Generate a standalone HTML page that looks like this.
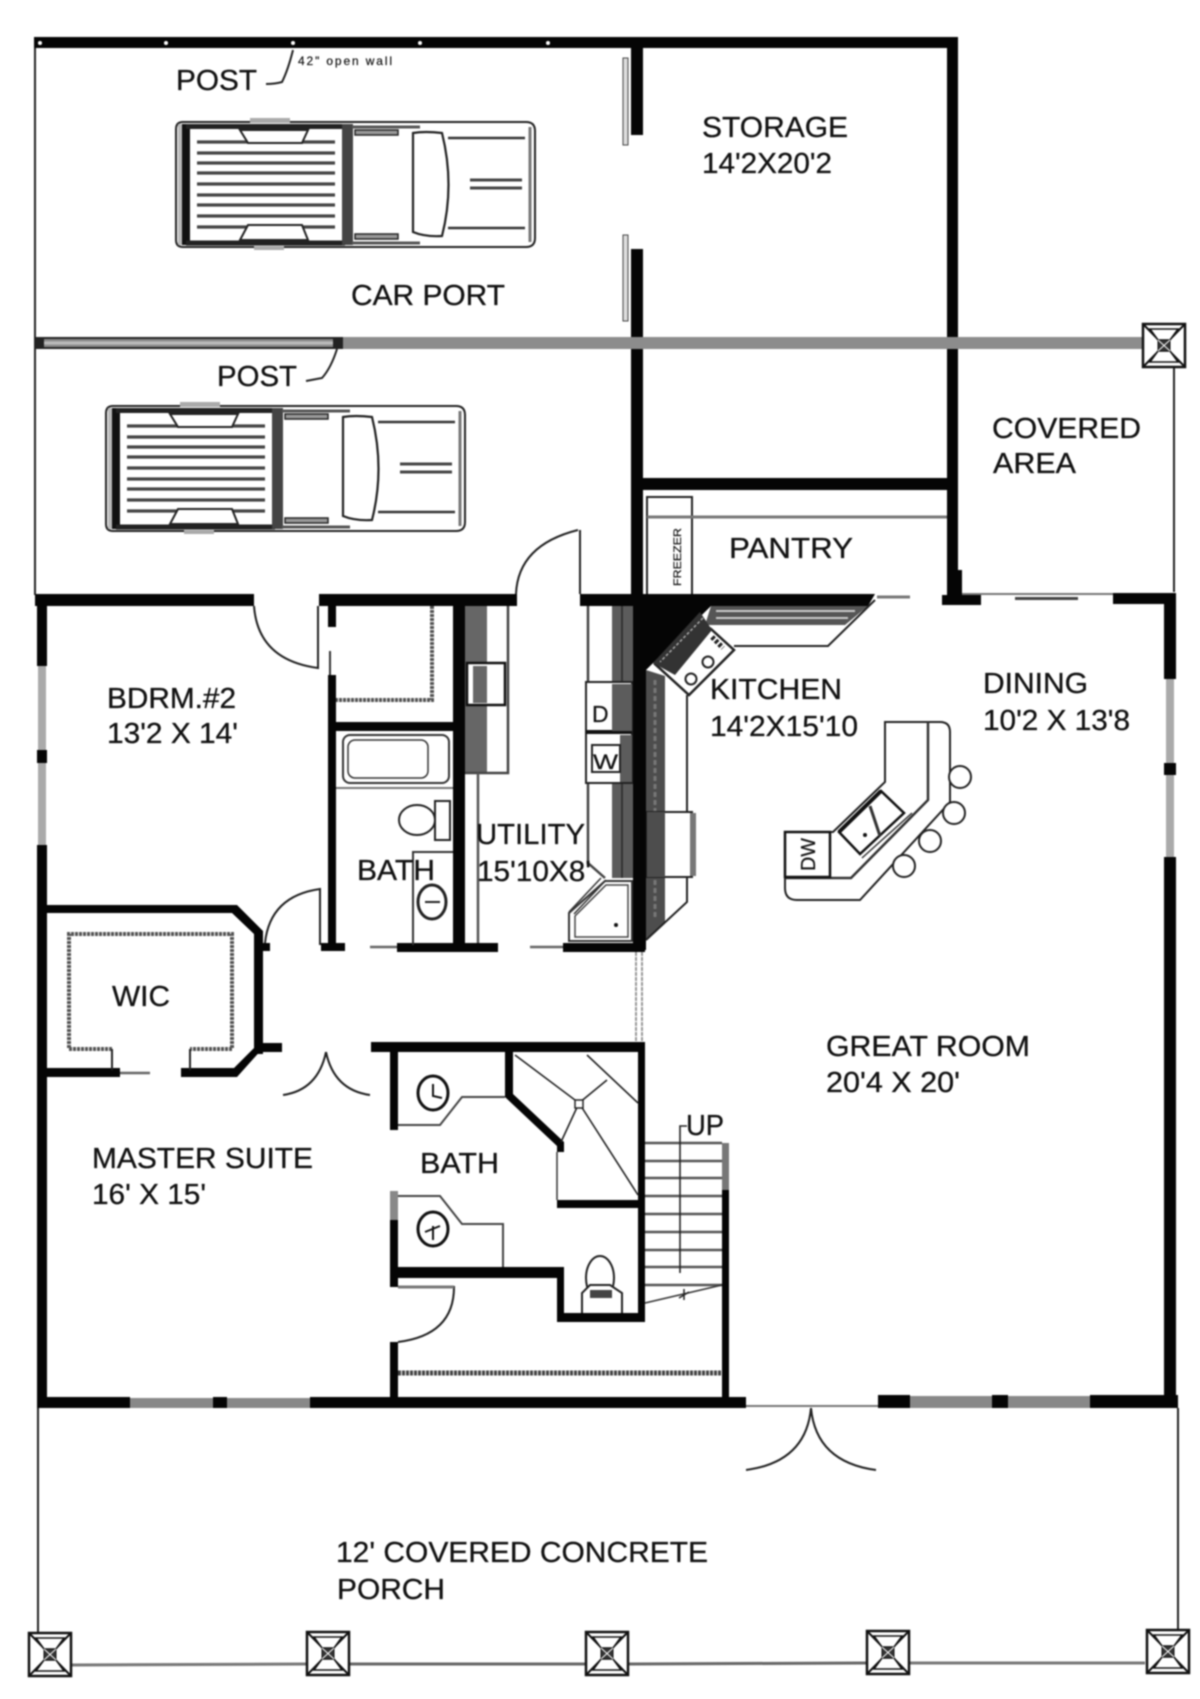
<!DOCTYPE html>
<html><head><meta charset="utf-8"><style>
html,body{margin:0;padding:0;background:#fff}
svg{display:block;filter:blur(.7px)}
text{font-family:"Liberation Sans",sans-serif;font-size:29px;fill:#111;stroke:#111;stroke-width:.3px}
</style></head><body>
<svg width="1200" height="1699" viewBox="0 0 1200 1699" xmlns="http://www.w3.org/2000/svg">
<defs>
<g id="post" fill="none" stroke="#111">
<rect x="1" y="1" width="42" height="43" stroke-width="2.5"/>
<path d="M1 1L43 44M43 1L1 44" stroke-width="2"/>
<path d="M8 6H36L28 17H16ZM8 39H36L28 28H16Z" stroke-width="1.5" fill="#fff"/>
<rect x="16" y="17" width="12" height="11" fill="#333" stroke-width="1"/>
<path d="M16 17L28 28M28 17L16 28" stroke="#fff" stroke-width="1"/>
</g>
<g id="truck" fill="none" stroke="#222">
<path d="M183 122H526Q535 122 535 131V238Q535 247 526 247H183Q176 247 176 240V129Q176 122 183 122Z" stroke-width="2"/>
<path d="M530 127V242" stroke="#777" stroke-width="3"/>
<rect x="182" y="124" width="8" height="121" stroke="none" fill="#111"/>
<rect x="178" y="124" width="4" height="121" stroke="none" fill="#bbb"/>
<path d="M186 126.500H345M186 243H345" stroke="#222" stroke-width="5"/>
<rect x="342" y="124" width="11" height="121" stroke="none" fill="#444"/>
<rect x="250" y="118" width="40" height="5" stroke="none" fill="#aaa"/>
<rect x="254" y="246" width="30" height="4" stroke="none" fill="#aaa"/>
<g stroke="#444" stroke-width="3.200"><path d="M197 142H335M197 153H335M197 163H335M197 173H335M197 184H335M197 195H335M197 205H335M197 216H335M197 227H335"/></g>
<path d="M240 130H308L302 143H248ZM248 225H302L308 240H240Z" stroke-width="2" fill="#fff"/>
<rect x="355" y="130" width="43" height="5" stroke-width="1.500" fill="#999"/>
<rect x="355" y="234" width="43" height="5" stroke-width="1.500" fill="#999"/>
<path d="M352 127H420M352 243H420" stroke="#555" stroke-width="3"/>
<path d="M413 133V232Q425 237 442 236Q455 185 442 133Q425 131 413 133Z" stroke-width="2.200"/>
<path d="M448 138H525M448 228H525" stroke="#333" stroke-width="2.500"/>
<path d="M470 180H522M470 188H522" stroke="#444" stroke-width="3"/>
</g>
</defs>
<rect width="1200" height="1699" fill="#fff"/>

<!-- carport outline -->
<g fill="#050505">
<rect x="34" y="37" width="924" height="11"/>
<rect x="631" y="48" width="12" height="87"/>
<rect x="631" y="249" width="12" height="350"/>
<rect x="947" y="37" width="11" height="560"/>
<rect x="643" y="478" width="315" height="12"/>
</g>
<g fill="#fff"><circle cx="40" cy="43" r="2"/><circle cx="166" cy="43" r="2"/><circle cx="293" cy="43" r="2"/><circle cx="420" cy="43" r="2"/><circle cx="548" cy="43" r="2"/></g>
<path d="M35 48V595" stroke="#222" stroke-width="2"/>
<rect x="623" y="58" width="5" height="87" fill="#ddd" stroke="#444"/>
<rect x="623" y="235" width="5" height="86" fill="#ddd" stroke="#444"/>
<rect x="34" y="337" width="1108" height="12" fill="#8c8c8c"/>
<path d="M34 338H337M34 348H337" stroke="#222" stroke-width="2"/>
<path d="M34 343H337" stroke="#bbb" stroke-width="3"/>
<rect x="34" y="337" width="10" height="12" fill="#222"/><rect x="333" y="337" width="10" height="12" fill="#222"/>
<use href="#post" x="1142" y="323"/>
<path d="M1174 368V592" stroke="#222" stroke-width="2"/>
<path d="M293 50Q288 70 282 82Q275 84 266 84" fill="none" stroke="#222" stroke-width="2"/>
<path d="M337 349Q331 368 322 378L306 381" fill="none" stroke="#222" stroke-width="2"/>
<use href="#truck"/>
<use href="#truck" x="-70" y="284"/>

<!-- pantry -->
<path d="M647 594V497H692V594" fill="none" stroke="#222" stroke-width="2"/>
<path d="M647 517H947" stroke="#777" stroke-width="3"/>
<text transform="translate(681,586) rotate(-90)" style="font-size:11px;stroke-width:.2px" textLength="58" lengthAdjust="spacingAndGlyphs">FREEZER</text>
<path d="M580 530V594" stroke="#222" stroke-width="2" fill="none"/>
<path d="M516 594Q518 545 578 530" fill="none" stroke="#222" stroke-width="2"/>

<!-- main house walls -->
<g fill="#050505">
<rect x="35" y="594" width="219" height="12"/>
<rect x="319" y="594" width="198" height="12"/>
<rect x="580" y="594" width="66" height="12"/>
<path d="M646 594H875L868 606H711L646 670Z"/>
<rect x="633" y="594" width="13" height="356"/>
<rect x="950" y="570" width="12" height="30"/>
<rect x="942" y="595" width="39" height="10"/>
<rect x="1113" y="593" width="63" height="11"/>
<rect x="1164" y="593" width="12" height="86"/>
<rect x="1164" y="763" width="12" height="12"/>
<rect x="1164" y="857" width="12" height="551"/>
<rect x="37" y="594" width="10" height="72"/>
<rect x="37" y="750" width="10" height="13"/>
<rect x="37" y="845" width="10" height="563"/>
<rect x="37" y="1397" width="93" height="11"/>
<rect x="213" y="1397" width="14" height="11"/>
<rect x="310" y="1397" width="436" height="11"/>
<rect x="878" y="1395" width="32" height="13"/>
<rect x="992" y="1395" width="16" height="13"/>
<rect x="1090" y="1395" width="88" height="13"/>
</g>
<rect x="38" y="666" width="8" height="84" fill="#aaa"/><rect x="38" y="763" width="8" height="82" fill="#aaa"/>
<rect x="1166" y="679" width="8" height="84" fill="#aaa"/><rect x="1166" y="775" width="8" height="82" fill="#aaa"/>
<rect x="130" y="1398" width="83" height="10" fill="#888"/><rect x="227" y="1398" width="83" height="10" fill="#888"/>
<rect x="910" y="1396" width="82" height="12" fill="#888"/><rect x="1008" y="1396" width="82" height="12" fill="#888"/>
<path d="M962 594H1113" stroke="#777" stroke-width="2"/><rect x="1015" y="597" width="63" height="3" fill="#444"/>
<path d="M877 597H910" stroke="#777" stroke-width="3"/>
<path d="M746 1406H878" stroke="#777" stroke-width="2"/>

<!-- bedroom 2 / bath -->
<path d="M254 606Q258 660 318 668V606" fill="none" stroke="#222" stroke-width="2"/>
<g fill="#050505">
<rect x="328" y="606" width="8" height="21"/>
<rect x="328" y="675" width="8" height="270"/>
<rect x="336" y="722" width="117" height="9"/>
<rect x="453" y="606" width="12" height="342"/>
<rect x="321" y="943" width="24" height="8"/>
<rect x="397" y="943" width="101" height="9"/>
<rect x="563" y="943" width="82" height="9"/>
<path d="M47 905H237L263 931V1054H254V934L232 913H47Z"/>
<rect x="261" y="943" width="9" height="8"/>
<rect x="261" y="1043" width="21" height="9"/>
<path d="M47 1068H120V1077H47ZM181 1068H234L254 1048H263L237 1077H181Z"/>
<rect x="371" y="1042" width="274" height="10"/>
<rect x="390" y="1052" width="8" height="78"/>
<rect x="390" y="1220" width="8" height="67"/>
<rect x="390" y="1342" width="8" height="55"/>
<rect x="398" y="1267" width="166" height="11"/>
<rect x="557" y="1267" width="7" height="55"/>
<rect x="557" y="1313" width="88" height="9"/>
<rect x="638" y="1052" width="7" height="270"/>
<path d="M505 1052H513V1094L564 1142V1152H557V1146L505 1097Z"/>
<rect x="557" y="1200" width="81" height="8"/>
<rect x="722" y="1190" width="7" height="207"/>
</g>
<rect x="390" y="1191" width="8" height="29" fill="#888"/>
<rect x="722" y="1143" width="7" height="47" fill="#777"/>
<path d="M330 651V675" stroke="#333" stroke-width="2"/>
<path d="M432 606V700H336" fill="none" stroke="#555" stroke-width="4" stroke-dasharray="3 1"/>
<rect x="343" y="735" width="106" height="48" rx="7" fill="none" stroke="#333" stroke-width="2"/>
<rect x="348" y="740" width="80" height="38" rx="7" fill="none" stroke="#333" stroke-width="1.500"/>
<path d="M336 788H453" stroke="#777" stroke-width="2"/>
<ellipse cx="417" cy="820" rx="18" ry="15" fill="none" stroke="#222" stroke-width="2"/>
<rect x="435" y="801" width="15" height="39" fill="none" stroke="#222" stroke-width="2"/>
<path d="M413 945V852H453" fill="none" stroke="#333" stroke-width="2"/>
<ellipse cx="432" cy="902" rx="14" ry="17" fill="none" stroke="#222" stroke-width="3"/>
<path d="M425 902H440" stroke="#222" stroke-width="2"/>
<path d="M265 943Q270 896 320 889V945" fill="none" stroke="#222" stroke-width="2"/>
<path d="M370 947H397M530 947H563M120 1073H150" stroke="#666" stroke-width="2.500"/>

<!-- WIC -->
<path d="M112 1049H69V934H232V1049H190" fill="none" stroke="#555" stroke-width="4" stroke-dasharray="3 1"/>
<path d="M112 1049V1070M190 1049V1070" stroke="#222" stroke-width="2"/>
<path d="M326 1052Q318 1090 283 1095M326 1052Q334 1090 370 1095" fill="none" stroke="#222" stroke-width="2"/>

<!-- utility -->
<rect x="465" y="606" width="22" height="167" fill="#666"/>
<path d="M508 606V773H465" fill="none" stroke="#444" stroke-width="2.500"/>
<rect x="467" y="663" width="38" height="42" fill="#fff" stroke="#111" stroke-width="2.500"/>
<rect x="473" y="666" width="14" height="37" fill="#666"/>
<path d="M478 773V943" stroke="#555" stroke-width="2.500"/>
<rect x="612" y="606" width="21" height="272" fill="#5c5c5c"/>
<path d="M622 606V878" stroke="#333" stroke-width="2"/>
<path d="M588 606V863L605 878" fill="none" stroke="#444" stroke-width="2.500"/>
<rect x="586" y="682" width="46" height="50" fill="#fff" stroke="#222" stroke-width="2"/>
<rect x="586" y="732" width="46" height="51" fill="#fff" stroke="#222" stroke-width="2"/>
<path d="M586 732H632" stroke="#111" stroke-width="4"/>
<rect x="612" y="684" width="20" height="47" fill="#5c5c5c"/>
<rect x="620" y="735" width="12" height="47" fill="#5c5c5c"/>
<rect x="592" y="745" width="28" height="27" fill="#fff" stroke="#222" stroke-width="2"/>
<path d="M605 881H632V941H569V913Z" fill="#fff" stroke="#333" stroke-width="2"/>
<path d="M601 878L569 912M606 880L574 914" stroke="#333" stroke-width="1.500"/>
<path d="M606 885H628V937H575V916Z" fill="none" stroke="#444" stroke-width="1.500"/>
<circle cx="616" cy="925" r="2" fill="#111"/>
<text x="592" y="722" style="font-size:23px;stroke-width:.2px">D</text><text x="593" y="769" style="font-size:21px;stroke-width:.2px" textLength="25" lengthAdjust="spacingAndGlyphs">W</text>
<path d="M636 952V1042M642 952V1042" stroke="#999" stroke-width="2" stroke-dasharray="4 1"/>

<!-- kitchen -->
<path d="M711 606H868L845 625H705Z" fill="#555"/>
<path d="M716 611H855M716 618H848" stroke="#ccc" stroke-width="2"/>
<path d="M734 646H828L875 600" fill="none" stroke="#222" stroke-width="2"/>
<path d="M711 629L734 650L689 695L655 664L696 620Z" fill="#fff" stroke="#222" stroke-width="2.500"/>
<path d="M700 612L712 630L675 675L653 663Z" fill="#333"/>
<path d="M703 618L660 662" stroke="#aaa" stroke-width="1.500" stroke-dasharray="3 2"/>
<circle cx="691" cy="679" r="5.500" fill="#fff" stroke="#222" stroke-width="2"/>
<circle cx="708" cy="662" r="5.500" fill="#fff" stroke="#222" stroke-width="2"/>
<path d="M712 637L723 648" stroke="#222" stroke-width="5" stroke-dasharray="3 2"/>
<path d="M646 670L665 676V922L646 940Z" fill="#4d4d4d"/>
<path d="M655 680V920" stroke="#777" stroke-width="3" stroke-dasharray="5 3"/>
<path d="M687 695V902L646 940" fill="none" stroke="#222" stroke-width="2"/>
<rect x="647" y="812" width="45" height="65" fill="#fff" stroke="#222" stroke-width="2"/>
<rect x="647" y="812" width="18" height="65" fill="#4d4d4d"/>
<rect x="690" y="813" width="6" height="63" fill="#777"/>

<!-- island -->
<path d="M885 722H940Q950 722 950 732V802L860 900H797Q785 900 785 888V832H833L885 782Z" fill="none" stroke="#222" stroke-width="2"/>
<path d="M928 722V800L851 878H785" fill="none" stroke="#333" stroke-width="2.500"/>
<path d="M830 832V877" stroke="#444" stroke-width="2" stroke-dasharray="3 2"/>
<rect x="785" y="832" width="45" height="45" fill="none" stroke="#111" stroke-width="2.500"/>
<text transform="translate(815,871) rotate(-90)" style="font-size:20px;stroke-width:.2px" textLength="33" lengthAdjust="spacingAndGlyphs">DW</text>
<path d="M839 832L881 791L904 813L860 854Z" fill="#fff" stroke="#111" stroke-width="2.500"/>
<path d="M839 832L881 791" stroke="#111" stroke-width="4"/>
<path d="M870 806L880 836" stroke="#333" stroke-width="3"/>
<path d="M862 858L912 813" stroke="#333" stroke-width="1.500"/>
<circle cx="865" cy="835" r="2" fill="#111"/>
<g fill="#fff" stroke="#222" stroke-width="2">
<circle cx="960" cy="777" r="11"/><circle cx="954" cy="813" r="11"/><circle cx="930" cy="841" r="11"/><circle cx="904" cy="866" r="11"/>
</g>

<!-- master bath -->
<ellipse cx="433" cy="1093" rx="15" ry="17" fill="none" stroke="#111" stroke-width="3"/>
<path d="M433 1084V1096L442 1098" stroke="#111" stroke-width="2" fill="none"/>
<path d="M505 1097H462L440 1125H398" fill="none" stroke="#444" stroke-width="2"/>
<path d="M398 1196H440L462 1224H503V1267" fill="none" stroke="#444" stroke-width="2"/>
<ellipse cx="433" cy="1229" rx="15" ry="17" fill="none" stroke="#111" stroke-width="3"/>
<path d="M425 1232L440 1226M433 1226V1240" stroke="#111" stroke-width="2"/>
<path d="M515 1055L579 1103L638 1195M587 1055L638 1103M607 1080L579 1103L561 1142" fill="none" stroke="#222" stroke-width="1.600"/>
<rect x="575" y="1100" width="8" height="8" fill="#fff" stroke="#222" stroke-width="1.500"/>
<path d="M557 1152V1200" stroke="#333" stroke-width="1.500"/>
<ellipse cx="600" cy="1278" rx="14" ry="22" fill="#fff" stroke="#222" stroke-width="2"/>
<path d="M582 1313V1293L590 1285H610L622 1293V1313" fill="#fff" stroke="#222" stroke-width="2"/>
<rect x="590" y="1290" width="22" height="8" fill="#444"/>

<!-- stairs -->
<g stroke="#555" stroke-width="2.500">
<path d="M645 1143H722M645 1161H722M645 1178H722M645 1196H722M645 1214H722M645 1232H722M645 1250H722M645 1267H722M645 1285H722"/>
</g>
<path d="M645 1303L722 1285" stroke="#333" stroke-width="1.500"/>
<path d="M680 1273V1126H687" fill="none" stroke="#222" stroke-width="1.600"/>
<path d="M684 1289V1300M679 1298L689 1292" stroke="#222" stroke-width="1.500"/>
<path d="M398 1373H722" stroke="#444" stroke-width="5" stroke-dasharray="3 1"/>
<path d="M398 1287H454Q454 1335 398 1342" fill="none" stroke="#222" stroke-width="2"/>
<path d="M398 1287H454" stroke="#777" stroke-width="3"/>

<!-- porch -->
<path d="M38 1408V1632M1178 1408V1629" stroke="#222" stroke-width="2"/>
<path d="M811 1408Q806 1462 746 1470M811 1408Q816 1462 876 1470" fill="none" stroke="#222" stroke-width="2"/>
<path d="M71 1665L306 1664" stroke="#777" stroke-width="3"/><path d="M350 1664L585 1664" stroke="#666" stroke-width="3"/><path d="M629 1664L866 1663" stroke="#666" stroke-width="3"/><path d="M910 1663L1145 1663" stroke="#777" stroke-width="3"/>
<use href="#post" x="28" y="1632"/>
<use href="#post" x="306" y="1631"/>
<use href="#post" x="585" y="1631"/>
<use href="#post" x="866" y="1630"/>
<use href="#post" x="1146" y="1629"/>

<!-- labels -->
<text x="298" y="65" style="font-size:12px;stroke-width:.2px" textLength="94" lengthAdjust="spacing">42" open wall</text>
<text x="176" y="90" textLength="81" lengthAdjust="spacingAndGlyphs">POST</text>
<text x="702" y="137" textLength="146" lengthAdjust="spacingAndGlyphs">STORAGE</text>
<text x="702" y="173" textLength="130" lengthAdjust="spacingAndGlyphs">14'2X20'2</text>
<text x="351" y="305" textLength="154" lengthAdjust="spacingAndGlyphs">CAR PORT</text>
<text x="217" y="386" textLength="80" lengthAdjust="spacingAndGlyphs">POST</text>
<text x="992" y="438" textLength="149" lengthAdjust="spacingAndGlyphs">COVERED</text>
<text x="993" y="473" textLength="83" lengthAdjust="spacingAndGlyphs">AREA</text>
<text x="729" y="558" textLength="124" lengthAdjust="spacingAndGlyphs">PANTRY</text>
<text x="107" y="708" textLength="129" lengthAdjust="spacingAndGlyphs">BDRM.#2</text>
<text x="107" y="743" textLength="131" lengthAdjust="spacingAndGlyphs">13'2 X 14'</text>
<text x="710" y="699" textLength="132" lengthAdjust="spacingAndGlyphs">KITCHEN</text>
<text x="710" y="736" textLength="148" lengthAdjust="spacingAndGlyphs">14'2X15'10</text>
<text x="983" y="693" textLength="105" lengthAdjust="spacingAndGlyphs">DINING</text>
<text x="983" y="730" textLength="147" lengthAdjust="spacingAndGlyphs">10'2 X 13'8</text>
<text x="476" y="844" textLength="109" lengthAdjust="spacingAndGlyphs">UTILITY</text>
<text x="477" y="881" textLength="114" lengthAdjust="spacingAndGlyphs">15'10X8'</text>
<text x="357" y="880" textLength="78" lengthAdjust="spacingAndGlyphs">BATH</text>
<text x="112" y="1006" textLength="58" lengthAdjust="spacingAndGlyphs">WIC</text>
<text x="826" y="1056" textLength="204" lengthAdjust="spacingAndGlyphs">GREAT ROOM</text>
<text x="826" y="1092" textLength="134" lengthAdjust="spacingAndGlyphs">20'4 X 20'</text>
<text x="686" y="1135" textLength="38" lengthAdjust="spacingAndGlyphs">UP</text>
<text x="92" y="1168" textLength="221" lengthAdjust="spacingAndGlyphs">MASTER SUITE</text>
<text x="92" y="1204" textLength="114" lengthAdjust="spacingAndGlyphs">16' X 15'</text>
<text x="420" y="1173" textLength="79" lengthAdjust="spacingAndGlyphs">BATH</text>
<text x="336" y="1562" textLength="372" lengthAdjust="spacingAndGlyphs">12' COVERED CONCRETE</text>
<text x="337" y="1599" textLength="108" lengthAdjust="spacingAndGlyphs">PORCH</text>
</svg>
</body></html>
